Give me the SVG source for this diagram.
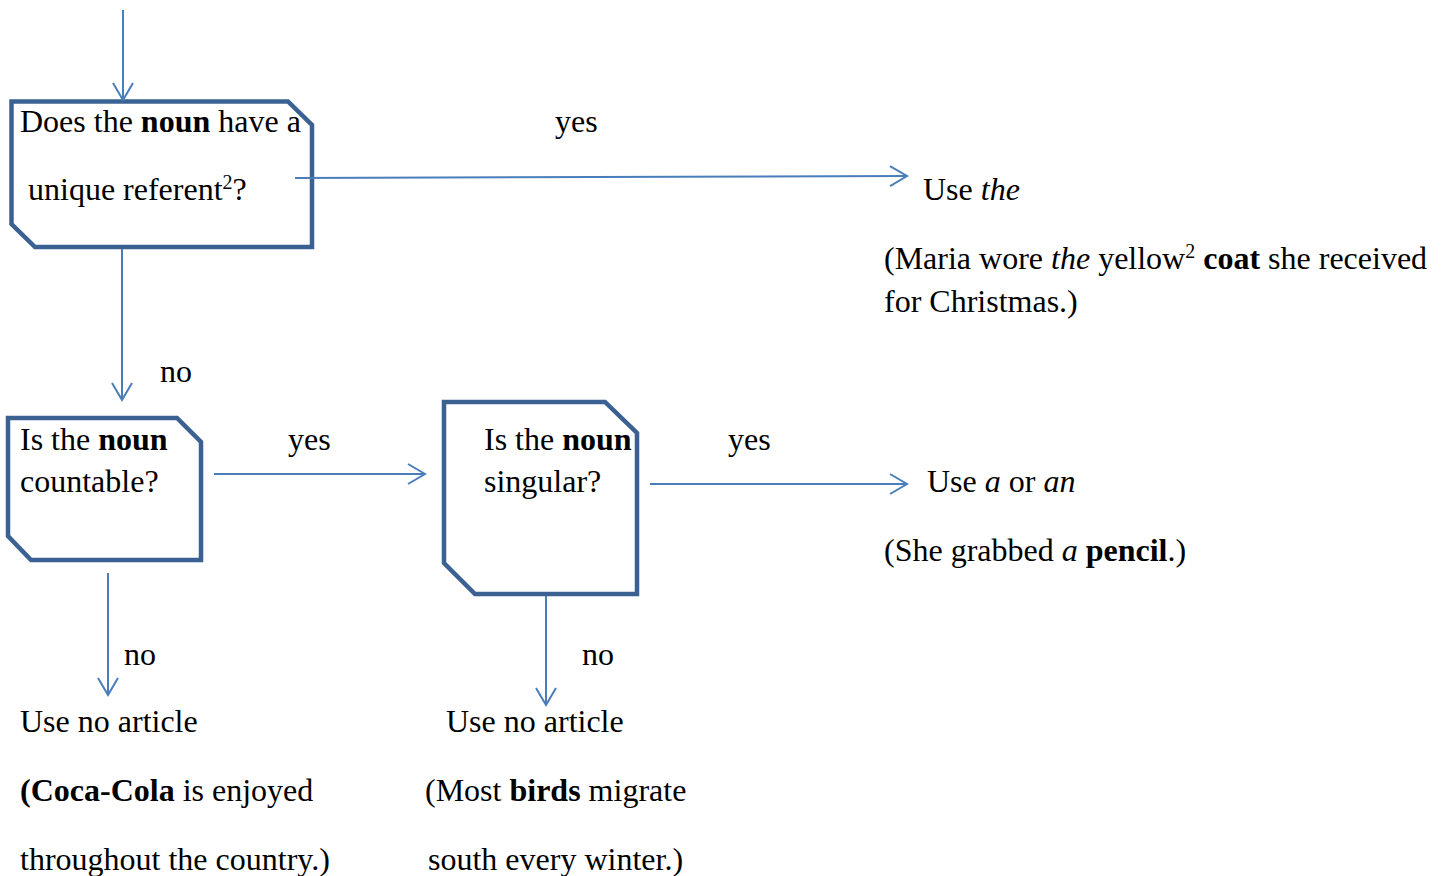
<svg xmlns="http://www.w3.org/2000/svg" width="1445" height="876" viewBox="0 0 1445 876">
<style>
text{font-family:"Liberation Serif","Times New Roman",serif;font-size:32px;fill:#000}
.b{font-weight:bold}
.i{font-style:italic}
.box{fill:#fff;stroke:#3B6193;stroke-width:4.5;stroke-linejoin:miter}
.c{stroke:#4A7EBB;stroke-width:2;fill:none}
</style>
<defs>
<marker id="arr" markerUnits="userSpaceOnUse" markerWidth="22" markerHeight="24" refX="18" refY="11" orient="auto">
<path d="M1,1 L18,11 L1,21" fill="none" stroke="#4A7EBB" stroke-width="2"/>
</marker>
</defs>
<g id="node-unique">
<path class="box" d="M11.5,101.5 L288,101.5 L312,125 L312,247 L35,247 L11.5,224 Z"/>
<text x="20" y="132">Does the <tspan class="b">noun</tspan> have a</text>
<text x="28" y="200">unique referent<tspan font-size="20" dy="-11">2</tspan><tspan dy="11">?</tspan></text>
</g>
<g id="node-countable">
<path class="box" d="M8,418 L177,418 L201,442 L201,560 L31,560 L8,536 Z"/>
<text x="20" y="450">Is the <tspan class="b">noun</tspan></text>
<text x="20" y="492">countable?</text>
</g>
<g id="node-singular">
<path class="box" d="M444,402 L605,402 L637,433 L637,594 L475,594 L444,563 Z"/>
<text x="484" y="450">Is the <tspan class="b">noun</tspan></text>
<text x="484" y="492">singular?</text>
</g>
<g id="connectors">
<line class="c" x1="123" y1="10" x2="123" y2="100" marker-end="url(#arr)"/>
<line class="c" x1="295" y1="178" x2="907" y2="176" marker-end="url(#arr)"/>
<line class="c" x1="122" y1="249" x2="122" y2="400" marker-end="url(#arr)"/>
<line class="c" x1="214" y1="474" x2="425" y2="474" marker-end="url(#arr)"/>
<line class="c" x1="650" y1="484" x2="907" y2="484" marker-end="url(#arr)"/>
<line class="c" x1="108" y1="573" x2="108" y2="695" marker-end="url(#arr)"/>
<line class="c" x1="546" y1="596" x2="546" y2="705" marker-end="url(#arr)"/>
</g>
<g id="labels">
<text x="555" y="132">yes</text>
<text x="160" y="382">no</text>
<text x="288" y="450">yes</text>
<text x="728" y="450">yes</text>
<text x="124" y="665">no</text>
<text x="582" y="665">no</text>
</g>
<g id="node-use-the">
<text x="923" y="200">Use <tspan class="i">the</tspan></text>
<text x="884" y="269">(Maria wore <tspan class="i">the</tspan> yellow<tspan font-size="20" dy="-11">2</tspan><tspan dy="11"> </tspan><tspan class="b">coat</tspan> she received</text>
<text x="884" y="312">for Christmas.)</text>
</g>
<g id="node-use-a">
<text x="927" y="492">Use <tspan class="i">a</tspan> or <tspan class="i">an</tspan></text>
<text x="884" y="561">(She grabbed <tspan class="i">a</tspan> <tspan class="b">pencil</tspan>.)</text>
</g>
<g id="node-no-article-1">
<text x="20" y="732">Use no article</text>
<text x="20" y="801"><tspan class="b">(Coca-Cola</tspan> is enjoyed</text>
<text x="20" y="870">throughout the country.)</text>
</g>
<g id="node-no-article-2">
<text x="446" y="732">Use no article</text>
<text x="425" y="801">(Most <tspan class="b">birds</tspan> migrate</text>
<text x="428" y="870">south every winter.)</text>
</g>
</svg>
